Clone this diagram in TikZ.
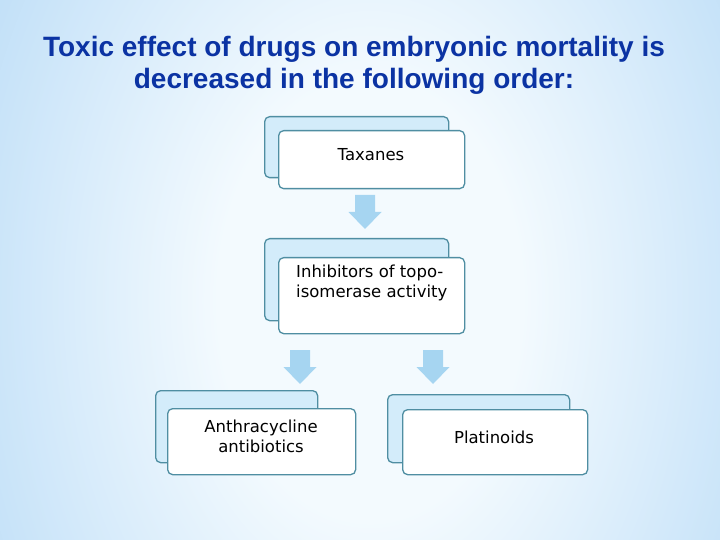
\documentclass[tikz,border=0pt]{standalone}
\usepackage{fontspec}
\setmainfont{DejaVu Sans}
\newfontfamily\titlefont{Liberation Sans}
\usetikzlibrary{calc}
\definecolor{titleblue}{HTML}{0B33A3}
\definecolor{bgin}{HTML}{F3FAFE}
\definecolor{bgout}{HTML}{9ACBF3}
\definecolor{boxline}{HTML}{4F8EA2}
\definecolor{backfill}{HTML}{D3ECFA}
\definecolor{arrowfill}{HTML}{A6D5F1}
\pgfdeclareradialshading{bgsh}{\pgfpoint{0bp}{0bp}}{color(0bp)=(bgin); color(10bp)=(bgin); color(43bp)=(bgout); color(70bp)=(bgout)}
\tikzset{
  backbox/.style={draw=boxline, fill=backfill, rounded corners=5bp, line width=1.3bp, inner sep=0pt, anchor=north west},
  frontbox/.style={draw=boxline, fill=white, rounded corners=5bp, line width=1.3bp, inner sep=0pt, anchor=north west},
  lbl/.style={font=\fontsize{16.5bp}{20bp}\selectfont, text=black, inner sep=0pt},
  titlestyle/.style={font=\titlefont\bfseries\fontsize{28bp}{32bp}\selectfont, text=titleblue, align=center, inner sep=0pt},
  darrow/.pic={\fill[arrowfill] (-10,0) -- (10,0) -- (10,17) -- (16.5,17) -- (0,34) -- (-16.5,17) -- (-10,17) -- cycle;}
}
\begin{document}
\begin{tikzpicture}[x=1bp,y=-1bp]
\useasboundingbox (0,0) rectangle (720,540);
\begin{scope}
\clip (0,0) rectangle (720,540);
\shade[shading=bgsh] (-10,-250) rectangle (750,850);
\end{scope}
\node[titlestyle] (title) at (354,65) {Toxic effect of drugs on embryonic mortality is\\decreased in the following order:};
% box 1
\node[backbox, minimum width=184bp, minimum height=61bp] (b1) at (264,116) {};
\node[frontbox, minimum width=186bp, minimum height=58bp] (f1) at (278,130) {};
\node[lbl] (t1) at (371,155) {Taxanes};
% box 2
\node[backbox, minimum width=184bp, minimum height=82bp] (b2) at (264,238) {};
\node[frontbox, minimum width=186bp, minimum height=76bp] (f2) at (278,257) {};
\node[lbl, align=left, anchor=west] (t2) at (296,283) {Inhibitors of topo-\\isomerase activity};
% box 3
\node[backbox, minimum width=162bp, minimum height=72bp] (b3) at (155,390) {};
\node[frontbox, minimum width=188bp, minimum height=66bp] (f3) at (167,408) {};
\node[lbl, align=center] (t3) at (261,436.5) {Anthracycline\\antibiotics};
% box 4
\node[backbox, minimum width=182bp, minimum height=68bp] (b4) at (387,394) {};
\node[frontbox, minimum width=185bp, minimum height=65bp] (f4) at (402,409) {};
\node[lbl] (t4) at (494,437) {Platinoids};
% arrows
\pic at (365,195) {darrow};
\pic at (300,350) {darrow};
\pic at (433,350) {darrow};
\end{tikzpicture}
\end{document}
